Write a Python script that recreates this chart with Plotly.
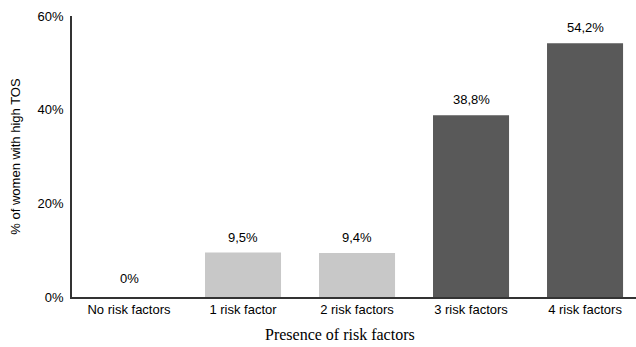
import plotly.graph_objects as go

categories = ["No risk factors", "1 risk factor", "2 risk factors", "3 risk factors", "4 risk factors"]
values = [0.0, 9.5, 9.4, 38.8, 54.2]
bar_colors = ["#C8C8C8", "#C8C8C8", "#C8C8C8", "#595959", "#595959"]
y_ticks = [0, 20, 40, 60]
y_tick_labels = ["0%", "20%", "40%", "60%"]


def pct_label(v):
    if v == 0:
        return "0%"
    return f"{v:.1f}".replace(".", ",") + "%"


fig = go.Figure(
    go.Bar(
        x=categories,
        y=values,
        marker=dict(color=bar_colors, line=dict(width=0)),
        hoverinfo="skip",
    )
)

# value labels above each bar
for cat, v in zip(categories, values):
    fig.add_annotation(
        x=cat, y=v, text=pct_label(v), showarrow=False,
        yanchor="bottom", yshift=6 if v > 0 else 9,
        font=dict(family="Liberation Sans, Arial", size=13, color="#000000"),
    )

# x-axis title, centred on the chart area
fig.add_annotation(
    xref="paper", yref="paper", x=0.475, y=-0.135,
    xanchor="center", yanchor="middle", showarrow=False,
    text="Presence of risk factors",
    font=dict(family="Liberation Serif, Times New Roman", size=16, color="#000000"),
)

fig.update_layout(
    width=636, height=347,
    margin=dict(l=72, r=0, t=16, b=50),
    paper_bgcolor="white", plot_bgcolor="white",
    bargap=0.333,
    showlegend=False,
    font=dict(family="Liberation Sans, Arial", size=13, color="#000000"),
)
fig.update_xaxes(
    range=[-0.5, 4.447],
    showline=True, linecolor="#333333", linewidth=1.5,
    ticks="", showgrid=False, tickfont=dict(size=13),
)
fig.update_yaxes(
    range=[0, 60], tickmode="array", tickvals=y_ticks, ticktext=y_tick_labels,
    showline=True, linecolor="#333333", linewidth=1.5,
    ticks="", showgrid=False, zeroline=False, tickfont=dict(size=13),
    ticklabelstandoff=4,
    title=dict(text="% of women with high TOS", font=dict(size=13), standoff=14),
)

fig.write_html("out.html")
